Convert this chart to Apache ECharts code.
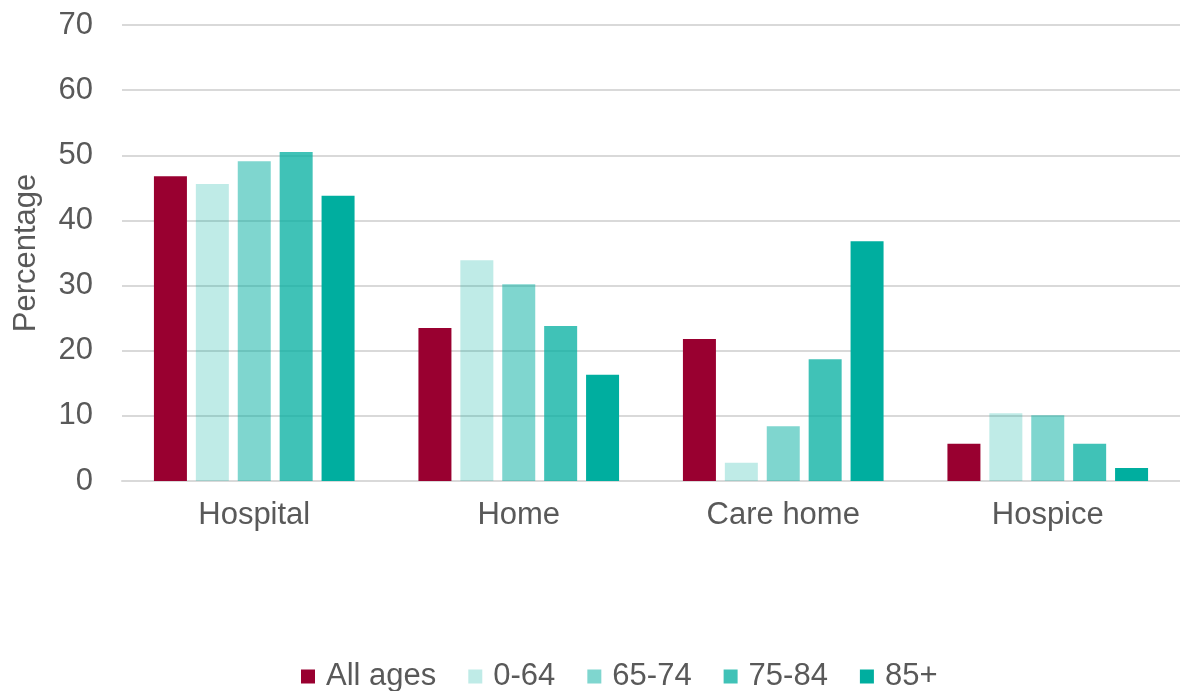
<!DOCTYPE html>
<html>
<head>
<meta charset="utf-8">
<script src="https://cdn.jsdelivr.net/npm/echarts@6/dist/echarts.min.js"></script>
<style>
  html, body { margin: 0; padding: 0; background: #fff; }
  #chart { width: 1180px; height: 691px; }
</style>
</head>
<body>
<div id="chart"></div>
<script>
// place of death by age group
const categories = ["Hospital", "Home", "Care home", "Hospice"];
const allAges = [46.8, 23.5, 21.8, 5.7];
const age0to64 = [45.6, 33.9, 2.8, 10.4];
const age65to74 = [49.1, 30.2, 8.4, 10.1];
const age75to84 = [50.5, 23.8, 18.7, 5.7];
const age85plus = [43.8, 16.3, 36.8, 2.0];

const teal = "#00AE9F";
const font = "'Liberation Sans', Arial, sans-serif";
const textColor = "#595959";

const chart = echarts.init(document.getElementById("chart"));

function barSeries(name, data, color, opacity) {
  return {
    name: name,
    type: "bar",
    data: data,
    barWidth: 33,
    barGap: "27%",
    itemStyle: { color: color, opacity: opacity },
    emphasis: { disabled: true },
  };
}

const option = {
  animation: false,
  grid: {
    left: 122,
    right: 0,
    top: 25,
    bottom: 210,
    containLabel: false,
    outerBoundsMode: "none",
  },
  xAxis: {
    type: "category",
    data: categories,
    axisLine: { lineStyle: { color: "#d9d9d9", width: 2 } },
    axisTick: { show: false },
    axisLabel: {
      color: textColor,
      fontSize: 31,
      fontFamily: font,
      margin: 19,
    },
  },
  yAxis: {
    type: "value",
    min: 0,
    max: 70,
    interval: 10,
    name: "Percentage",
    nameLocation: "middle",
    nameGap: 80,
    nameRotate: 90,
    nameTextStyle: {
      color: textColor,
      fontSize: 31,
      fontFamily: font,
    },
    axisLine: { show: false },
    axisTick: { show: false },
    axisLabel: {
      color: textColor,
      fontSize: 31,
      fontFamily: font,
      margin: 29,
    },
    splitLine: { lineStyle: { color: "#d9d9d9", width: 2 } },
  },
  legend: {
    bottom: -6,
    left: 296,
    itemWidth: 14,
    itemHeight: 14,
    itemGap: 32,
    icon: "rect",
    textStyle: {
      color: textColor,
      fontSize: 31,
      fontFamily: font,
      padding: [0, 0, 0, 6],
    },
    data: ["All ages", "0-64", "65-74", "75-84", "85+"],
  },
  series: [
    barSeries("All ages", allAges, "#990030", 1),
    barSeries("0-64", age0to64, teal, 0.25),
    barSeries("65-74", age65to74, teal, 0.5),
    barSeries("75-84", age75to84, teal, 0.75),
    barSeries("85+", age85plus, teal, 1),
  ],
};

chart.setOption(option);
</script>
</body>
</html>
